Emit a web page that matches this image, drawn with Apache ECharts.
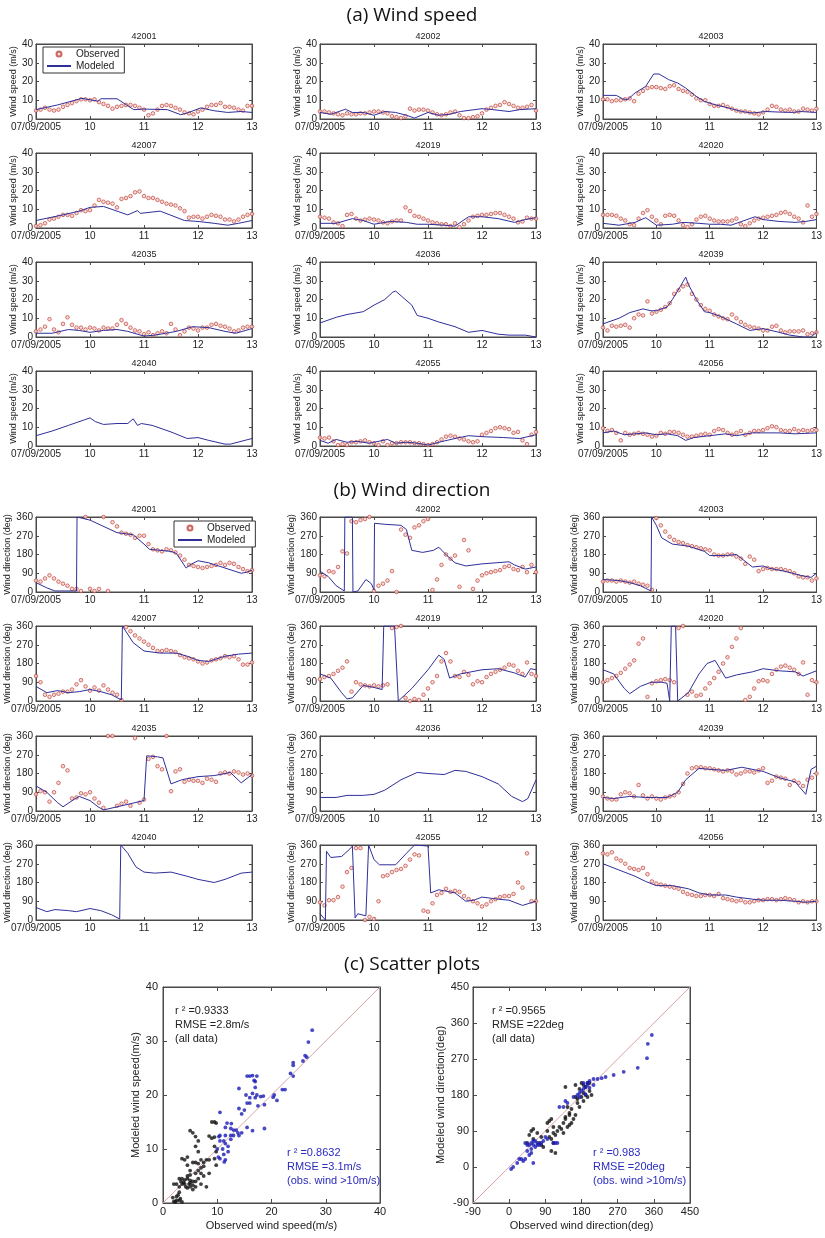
<!DOCTYPE html>
<html>
<head>
<meta charset="utf-8">
<script src="https://cdn.jsdelivr.net/npm/echarts/dist/echarts.min.js"></script>
<style>
html,body{margin:0;padding:0;background:#fff;}
#main{width:825px;height:1238px;}
</style>
</head>
<body>
<div id="main"></div>
<script>
// ---------- data ----------
var stations = ['42001','42002','42003','42007','42019','42020','42035','42036','42039','42040','42055','42056'];
var dayTicks = [9, 10, 11, 12, 13];
var dayLabels = ['07/09/2005', '10', '11', '12', '13'];
var spdTicks = [0, 10, 20, 30, 40];
var dirTicks = [0, 90, 180, 270, 360];
var scSpdTicks = [0, 10, 20, 30, 40];
var scDirTicks = [-90, 0, 90, 180, 270, 360, 450];

// observed: one value every 2 h from 07/09 00h to 07/13 00h ; modeled: [day, value]
var obsSpd42001 = [4.5,5,6,5,4.5,5,6.5,7.5,8.5,9.5,10.5,10.5,10,10.5,9,8,7,5.5,6.5,7,7.5,7.5,7,6,5,2,3,5,7,7.5,7,6,5,3.5,3,2.5,4,5,6.5,7.5,7.5,8.5,6.5,6.5,6,5,4.5,7,7];
var modSpd42001 = [[9,5],[9.4,7.5],[9.85,11],[10.15,9.5],[10.2,10.8],[10.5,10.8],[10.81,5],[11,5.3],[11.43,5],[11.68,2.3],[11.8,3.2],[12.05,5.9],[12.3,4.4],[12.55,3.5],[12.8,4],[13,3.5]];
var obsSpd42002 = [4,4,3.5,3,2.5,2,3,2.5,2.5,3,3,3.5,4,4,3.5,3,1.5,1,0.5,1.5,5.5,4.5,5,5,4.5,3.5,2.5,2,2.5,3.5,4,2,0.5,0.5,1,1.5,3,5,6,7,7.5,9,8,7,6,6,6.5,7.5,4.5];
var modSpd42002 = [[9,3.5],[9.2,2.5],[9.47,5.2],[9.6,3.5],[9.8,3.5],[10,2],[10.2,4],[10.4,3.5],[10.6,2],[10.75,0.5],[11,3.5],[11.2,2],[11.4,2.5],[11.6,4],[12,5.5],[12.2,5],[12.5,4],[12.7,5],[13,5.5]];
var obsSpd42003 = [10.5,10.5,9.5,10,10,10.5,11,9.5,13.5,15,16.5,17,17,16.5,16,17.5,18,16,15,14.5,13,11,10,10,8,7,7,7.5,6.5,5.5,4.5,4,4,3.5,3,2.5,3.5,5,7,6.5,5,4.5,5,4,4,5.5,5,4.5,5.5];
var modSpd42003 = [[9,12.6],[9.25,12.6],[9.37,10.7],[9.46,10.3],[9.6,13.9],[9.8,17.4],[9.95,24],[10.05,24],[10.23,21],[10.4,19.2],[10.55,16.5],[10.75,12],[10.9,9.4],[11.1,7.6],[11.35,5.9],[11.6,4],[11.8,3.2],[12.05,4],[12.3,3.7],[12.55,3.5],[12.7,4],[13,3.5]];
var obsSpd42007 = [1,1.5,2.5,4.5,5,6,7,7,6.5,8,9.5,9,9.5,12,15,14,13.5,13,11,15.5,16,17,19,19.5,17,16,16,15,14,13,12.5,12,10.5,9,5.5,6,6,5,6,7,6.5,6,4.5,4.5,3.5,4.5,6,7,7.5];
var modSpd42007 = [[9,4],[9.5,7],[9.8,9],[10,11],[10.25,11.5],[10.5,9],[10.7,7],[10.88,9.3],[10.93,7.8],[11.3,9],[11.75,4],[12,3.5],[12.3,2.5],[12.55,1.5],[12.75,2.5],[13,4]];
var obsSpd42019 = [6,5.5,5,3,2.5,1,7,7.5,5,4,4.5,5,4.5,4,3,2.5,3.5,4,4,11,9,6.5,6,5,4,3,2.5,2,2,1,2.5,0.5,2,4,6,6.5,7,7,7.5,8,8,7,6,5,3,3.5,5.5,5,5];
var modSpd42019 = [[9,2.5],[9.3,2.5],[9.6,5],[9.8,4],[10,2],[10.3,3.5],[10.6,3],[10.8,2],[11,2],[11.3,1.5],[11.5,1],[11.75,6],[12,6],[12.3,5],[12.6,3],[12.8,4.5],[13,5.5]];
var obsSpd42020 = [7,7,7,6.5,5,4,2,1.5,5,8,9.5,6,4,2,6.5,7,6.5,4,1.5,0.5,2,4.5,6,6.5,5,4,3.5,3.5,3.5,4,5,2,1,2.5,4,5,5.5,6,6.5,7,8,8.5,7.5,6,5,3,12,6,7.5];
var modSpd42020 = [[9,2.5],[9.3,1.5],[9.6,3],[9.8,5.5],[10,1.5],[10.3,2],[10.5,3],[10.8,2.5],[11,2],[11.2,2],[11.4,1.5],[11.6,3.5],[11.85,6],[12,4.5],[12.3,3.5],[12.6,3],[12.8,3.5],[13,4.5]];
var obsSpd42035 = [3,4,5.5,9.5,4,2.5,7,10.5,6.5,5,5,4,5,4.5,3.5,5,4.5,4.5,6.5,9,7,5,3.5,3,1.5,2.5,1,2,3,2,7,4,1,3,5,4.5,3.5,5,5,6.5,7,6,5.5,4.5,3,3.5,5,5.5,5.5];
var modSpd42035 = [[9,2],[9.3,2],[9.6,4],[9.8,3.5],[10,2.5],[10.25,3.5],[10.5,4],[10.7,3],[11,0.5],[11.2,1],[11.4,2],[11.6,3],[11.9,5.5],[12.2,5],[12.5,3],[12.7,2],[13,4.5]];
var obsSpd42036 = [];
var modSpd42036 = [[9,7.5],[9.3,10.5],[9.5,12],[9.8,13.5],[10,17],[10.2,20],[10.35,24],[10.4,24.5],[10.5,22],[10.7,17],[10.8,11.5],[11,10],[11.2,8],[11.5,5.5],[11.75,2.5],[12,3.5],[12.3,1.5],[12.5,1],[12.8,1],[13,0]];
var obsSpd42039 = [5,3.5,6,5.5,6,6.5,5,10,12,11.5,19,12.5,13.5,14.5,16,18,23,25,27,28,23,20,17,15,14,12,11,10,9.5,12,10,8,6.5,5.5,5,4.5,3.5,3.5,5.5,6,3.5,2.5,3,3,3,3.5,1.5,2,2.5];
var modSpd42039 = [[9,7],[9.3,10],[9.5,13],[9.75,15],[9.9,14],[10,14],[10.2,16],[10.3,20],[10.45,27],[10.55,32],[10.6,28],[10.75,20],[10.9,13.5],[11,13],[11.2,11],[11.5,7],[11.75,3.5],[12,4.5],[12.3,2.5],[12.5,1],[12.75,0],[12.9,0],[13,2.5]];
var obsSpd42040 = [];
var modSpd42040 = [[9,5.5],[9.3,8],[9.6,11],[9.9,14],[10,15],[10.1,13],[10.25,11.5],[10.5,12],[10.7,12],[10.8,14.5],[10.88,11],[10.95,12],[11.15,11],[11.5,7.5],[11.8,4],[12,4.5],[12.2,3],[12.5,1],[12.6,1],[13,4]];
var obsSpd42055 = [4.5,4,4.5,2.5,0.5,1,0.5,2,2,2.5,3,2,1.5,0.5,2.5,0.5,1.5,1.5,2,2,2,1.5,1.5,1,0.5,1,2,3.5,5,5.5,5,4,3.5,2.5,2,2.5,6,7,8,9.5,10,9.5,9,7,7.5,3,1,6,7.5];
var modSpd42055 = [[9,3],[9.15,1.5],[9.3,3.5],[9.5,2],[9.7,2.5],[9.9,1.5],[10,2],[10.25,3.5],[10.4,1.5],[10.6,2],[10.8,1.5],[11,0.5],[11.2,2],[11.5,4],[11.75,5.5],[12,5],[12.4,4.5],[12.7,4],[13,6]];
var obsSpd42056 = [9.5,8,8.5,7,3,7,6,6.5,7,6.5,6,5,5.5,7,6.5,7.5,7.5,7,6,5,5,5.5,6,6.5,6,8,9,8.5,7,6,7,8,6,7,8,8,8.5,9.5,10.5,10,8.5,8,8,9,8,8.5,8,8.5,8.5];
var modSpd42056 = [[9,7],[9.2,8],[9.4,6],[9.6,6.5],[9.8,7],[10,6],[10.2,6.5],[10.4,5.5],[10.55,3],[10.7,4.5],[11,5.5],[11.3,6.5],[11.5,5.5],[11.8,7],[12,7],[12.3,7],[12.6,6.5],[13,7]];

var obsDir42001 = [55,50,65,80,65,50,40,30,15,15,5,360,15,5,15,360,5,335,315,285,280,275,260,270,270,230,205,200,195,205,200,190,175,155,130,125,120,115,120,125,130,140,130,140,135,120,110,100,105];
var modDir42001 = [[9,45],[9.2,20],[9.35,5],[9.75,5],[9.76,360],[10,345],[10.5,285],[10.8,275],[11,230],[11.1,205],[11.3,200],[11.5,195],[11.6,185],[11.78,115],[11.85,130],[12,150],[12.2,140],[12.5,115],[12.8,90],[12.9,95],[13,105]];
var obsDir42002 = [80,75,100,95,120,195,185,340,335,345,350,360,5,30,40,55,100,0,300,275,260,310,320,340,350,10,60,130,180,160,175,25,250,200,15,55,80,90,95,100,105,120,125,110,105,120,95,130,95];
var modDir42002 = [[9,100],[9.15,75],[9.3,30],[9.45,5],[9.46,360],[9.6,360],[9.61,0],[9.7,5],[9.85,60],[9.95,40],[10,10],[10.01,330],[10.2,325],[10.5,320],[10.6,300],[10.7,200],[10.9,190],[11.1,200],[11.2,215],[11.35,175],[11.5,140],[11.7,125],[12,135],[12.5,145],[12.6,130],[12.8,110],[13,120]];
var obsDir42003 = [50,55,55,50,55,50,45,50,40,35,30,10,355,320,290,265,250,240,235,225,220,215,210,205,200,180,175,175,180,180,170,160,135,170,155,100,110,115,110,110,110,105,100,90,75,70,70,55,65];
var modDir42003 = [[9,60],[9.3,55],[9.5,45],[9.7,30],[9.9,5],[9.91,360],[10,320],[10.1,260],[10.3,230],[10.6,220],[10.9,195],[11,175],[11.3,175],[11.5,180],[11.6,160],[11.8,120],[12,125],[12.1,115],[12.4,100],[12.7,80],[12.9,70],[13,90]];
var obsDir42007 = [120,90,30,20,30,35,45,45,55,80,100,70,50,65,50,75,55,40,30,5,355,335,315,300,285,270,255,240,240,245,240,235,220,210,205,200,190,180,185,195,200,205,215,210,215,200,175,175,185];
var modDir42007 = [[9,70],[9.2,40],[9.4,50],[9.6,40],[9.8,45],[10,55],[10.2,45],[10.4,30],[10.58,5],[10.6,360],[10.8,280],[11,240],[11.3,230],[11.6,230],[11.8,215],[12,195],[12.2,190],[12.5,215],[12.75,225],[13,230]];
var obsDir42019 = [105,115,120,130,145,160,190,45,90,80,75,70,75,70,75,80,350,355,360,15,0,10,5,30,60,90,120,190,230,190,120,115,140,125,80,95,90,115,130,140,150,160,175,170,145,130,185,130,120];
var modDir42019 = [[9,130],[9.2,110],[9.4,40],[9.5,10],[9.6,15],[9.8,75],[10,65],[10.15,55],[10.18,360],[10.38,360],[10.45,0],[10.7,60],[11,150],[11.2,220],[11.3,200],[11.4,110],[11.6,130],[12,150],[12.3,155],[12.6,135],[12.8,115],[12.9,155],[13,150]];
var obsDir42020 = [90,100,110,120,135,155,175,195,275,300,20,85,95,100,105,100,90,350,360,30,45,25,30,60,85,110,140,180,210,260,300,350,5,20,60,95,100,95,130,150,165,170,160,150,130,185,30,100,90];
var modDir42020 = [[9,150],[9.2,130],[9.4,60],[9.5,35],[9.7,70],[9.9,90],[10.1,90],[10.2,85],[10.25,0],[10.28,360],[10.36,360],[10.4,0],[10.6,40],[10.8,130],[10.95,180],[11.1,195],[11.3,110],[11.5,125],[11.8,140],[12,155],[12.3,145],[12.6,140],[12.75,120],[12.9,135],[13,145]];
var obsDir42035 = [80,95,90,45,90,135,215,195,60,65,85,80,90,60,40,15,360,360,25,35,45,25,350,40,55,250,260,215,200,360,95,190,200,140,150,145,145,135,155,150,140,180,185,180,190,185,175,180,170];
var modDir42035 = [[9,120],[9.2,90],[9.4,40],[9.5,20],[9.7,55],[9.8,70],[10,50],[10.15,20],[10.25,5],[10.5,20],[10.75,35],[11,50],[11.05,265],[11.25,260],[11.35,255],[11.5,130],[11.7,150],[12,165],[12.3,170],[12.6,185],[12.8,135],[13,175]];
var obsDir42036 = [];
var modDir42036 = [[9,65],[9.3,65],[9.5,75],[9.8,75],[10,80],[10.2,100],[10.5,150],[10.8,185],[11,180],[11.3,175],[11.5,195],[11.7,190],[12,165],[12.3,130],[12.55,70],[12.75,45],[12.85,60],[13,150]];
var obsDir42039 = [70,60,55,55,80,90,85,70,125,75,60,70,60,55,65,70,75,90,130,180,205,210,210,205,205,200,195,190,195,190,175,180,190,190,185,195,205,135,145,165,160,155,125,145,135,120,150,160,180];
var modDir42039 = [[9,65],[9.2,60],[9.5,70],[9.8,65],[10,65],[10.2,65],[10.4,90],[10.55,150],[10.8,205],[11,200],[11.3,195],[11.6,210],[12,190],[12.3,160],[12.6,140],[12.8,80],[12.9,200],[13,215]];
var obsDir42040 = [];
var modDir42040 = [[9,60],[9.2,40],[9.35,50],[9.6,45],[9.75,40],[10,55],[10.2,45],[10.4,25],[10.55,5],[10.57,360],[10.7,320],[10.85,255],[11,230],[11.2,225],[11.5,230],[11.8,210],[12,195],[12.3,180],[12.5,195],[12.8,225],[13,230]];
var obsDir42055 = [85,70,95,95,110,160,230,250,345,345,0,15,5,90,210,215,230,240,245,260,290,315,310,45,40,80,120,130,150,135,140,135,115,100,90,80,65,75,90,100,110,115,115,125,180,155,320,90,90];
var modDir42055 = [[9,30],[9.1,0],[9.12,330],[9.2,300],[9.4,305],[9.55,340],[9.6,355],[9.65,10],[9.7,30],[9.85,20],[9.9,360],[10,290],[10.1,265],[10.4,265],[10.6,320],[10.75,360],[11,355],[11.05,130],[11.2,145],[11.5,130],[11.7,90],[11.85,95],[12,110],[12.3,100],[12.5,95],[12.75,70],[13,90]];
var obsDir42056 = [320,315,325,295,285,270,250,245,240,250,220,185,175,170,165,160,155,150,135,125,120,115,115,120,120,115,125,105,100,95,90,95,85,85,90,95,95,100,100,95,100,105,100,95,85,90,85,90,90];
var modDir42056 = [[9,270],[9.3,240],[9.6,210],[9.8,185],[10,165],[10.3,165],[10.6,150],[10.8,130],[11,120],[11.3,120],[11.5,110],[11.8,100],[12,95],[12.3,95],[12.6,90],[12.8,85],[13,90]];

// scatter: [observed, modeled]
var spdBlack = [[9.5,15],[9,15],[9.8,14.8],[9,12],[9.5,12.2],[8.5,12.4],[9.5,10.5],[9.8,9.5],[9.5,8.2],[9.8,7],[8.5,8],[8,8],[7.5,7.5],[7,8],[6.5,7.3],[6,7.5],[6.5,6],[7,5.5],[5,13.4],[5.5,13],[6,12.3],[6.5,11.5],[6,10.5],[6.5,9.5],[4,8],[3.5,8.2],[4.5,8.5],[4.5,7],[5.5,7.5],[5,6],[5,5.2],[4.5,5],[4.5,4.5],[4,4.3],[3.5,4.5],[3,4.5],[3.5,3.5],[4,3.5],[5,3.7],[5.5,4],[6,4],[4.2,3],[4.5,2.8],[5,3],[5.5,3.3],[6,3],[5.5,2.5],[3,3],[2.5,3.5],[2,3.5],[2.5,1.2],[2.5,0.5],[2,0.3],[3,0.5],[3.2,0.8],[2.8,1.5],[1.8,1],[3,2],[7.5,5],[8,3],[7,3.5],[6.5,4.5],[5,4.2],[4.8,3.5],[3.8,3.8],[3.3,4],[2.3,0.2],[3.5,0.2],[6,5.5],[7,6.5],[7.5,6.8],[8.5,5.5]];
var spdBlue = [[27.5,32],[26.8,29.8],[26.5,27],[26.2,27.3],[25.8,26.3],[24,25.5],[24,26],[23.5,24],[24,23.5],[22.5,21],[22,21],[20.5,20],[20.3,19.6],[21,19],[18.5,19.8],[18,19.7],[18.7,18.2],[17.3,23.5],[16.8,22.7],[17,22.5],[16.5,23.6],[15.5,23.5],[16,23.5],[17,21.4],[16.5,20.3],[17,19.5],[16,19.5],[17.5,18],[17.3,20],[16,18.5],[15.5,18.5],[15.3,20],[14,21.2],[15,17.2],[14,17.5],[14.5,16.5],[13.8,13],[14,12.5],[13,13.5],[12.6,14.7],[12.5,13.8],[13,12.5],[12.5,12.5],[11.8,14.8],[11.5,14],[11.5,12.5],[11.2,11.5],[11.5,11],[12,10.5],[12,9.5],[11.2,9],[11.5,8],[11.3,7.6],[10.5,11.5],[10.3,12.3],[10.5,12.5],[10.5,16.8],[10,10],[10.2,8.5],[10.5,8.2],[16.5,13.4],[18.7,13.8],[15.5,14],[14.5,13],[12.5,11.8],[13.5,13.5],[11,10]];
var dirBlack = [[185,205],[180,210],[175,195],[165,205],[195,210],[190,200],[200,190],[190,180],[180,175],[185,165],[170,160],[175,150],[165,130],[160,120],[155,110],[150,135],[140,120],[135,110],[140,200],[145,150],[150,130],[155,145],[130,95],[125,100],[135,85],[120,90],[115,80],[105,120],[100,115],[95,110],[110,100],[105,70],[110,60],[105,40],[115,35],[100,75],[95,90],[80,75],[75,60],[70,85],[60,95],[55,90],[50,80],[45,60],[60,70],[80,55],[85,50],[110,85],[200,210],[205,180],[195,175],[185,185],[170,170],[165,175],[145,100],[150,105],[140,125]];
var dirBlue = [[355,330],[345,308],[343,272],[320,248],[285,238],[260,230],[240,225],[230,222],[220,220],[210,220],[200,215],[195,210],[190,200],[185,195],[180,190],[175,185],[170,180],[195,205],[200,198],[210,205],[185,210],[190,182],[175,175],[160,175],[140,165],[145,160],[135,150],[125,150],[120,60],[115,60],[110,60],[95,70],[85,65],[80,60],[75,55],[70,60],[60,65],[55,60],[50,55],[45,55],[45,40],[40,60],[55,45],[55,35],[50,30],[40,20],[35,15],[30,20],[25,20],[20,10],[10,0],[5,-5],[60,10],[60,55],[65,50],[90,75],[70,55],[65,65]];
var spdOneToOne = [[0,0],[40,40]];
var dirOneToOne = [[-90,-90],[450,450]];

var spdObs = [obsSpd42001,obsSpd42002,obsSpd42003,obsSpd42007,obsSpd42019,obsSpd42020,obsSpd42035,obsSpd42036,obsSpd42039,obsSpd42040,obsSpd42055,obsSpd42056];
var spdMod = [modSpd42001,modSpd42002,modSpd42003,modSpd42007,modSpd42019,modSpd42020,modSpd42035,modSpd42036,modSpd42039,modSpd42040,modSpd42055,modSpd42056];
var dirObs = [obsDir42001,obsDir42002,obsDir42003,obsDir42007,obsDir42019,obsDir42020,obsDir42035,obsDir42036,obsDir42039,obsDir42040,obsDir42055,obsDir42056];
var dirMod = [modDir42001,modDir42002,modDir42003,modDir42007,modDir42019,modDir42020,modDir42035,modDir42036,modDir42039,modDir42040,modDir42055,modDir42056];

// ---------- layout ----------
var FONT = 'Liberation Sans';
var AX = '#4a4a4a';
var OBS_EDGE = '#c0443e', OBS_FILL = '#f6d3cd', MOD = '#2f2f9a';
var colLeft = [36, 320, 603];
var spdTop = [44, 153, 262, 371];
var dirTop = [517, 626, 736, 845];
var PW = 216, PH = 75;

var grid = [], xAxis = [], yAxis = [], series = [], graphic = [];

function addGrid(left, top, w, h, xt, yt, o) {
  var gi = grid.length;
  grid.push({left: left, top: top, width: w, height: h, show: true, borderColor: AX, borderWidth: 1, backgroundColor: '#fff'});
  var base = {type: 'value', gridIndex: gi, splitLine: {show: false},
    axisLine: {show: true, onZero: false, lineStyle: {color: AX, width: 1}},
    axisTick: {show: true, inside: true, length: o.tick, lineStyle: {color: AX}}};
  var xi = xAxis.length, yi = yAxis.length;
  xAxis.push(Object.assign({}, base, {position: 'bottom', min: xt[0], max: xt[xt.length - 1], interval: xt[1] - xt[0],
    axisLabel: {fontSize: o.fs, color: '#222', fontFamily: FONT, margin: o.xm, formatter: o.xfmt},
    name: o.xname || '', nameLocation: 'middle', nameGap: o.xng || 0,
    nameTextStyle: {fontSize: o.nfs, color: '#222', fontFamily: FONT}}));
  xAxis.push(Object.assign({}, base, {position: 'top', min: xt[0], max: xt[xt.length - 1], interval: xt[1] - xt[0],
    axisLabel: {show: false}}));
  yAxis.push(Object.assign({}, base, {position: 'left', min: yt[0], max: yt[yt.length - 1], interval: yt[1] - yt[0],
    axisLabel: {fontSize: o.fs, color: '#222', fontFamily: FONT, margin: o.ym},
    name: o.yname, nameLocation: 'middle', nameGap: o.yng, nameRotate: 90,
    nameTextStyle: {fontSize: o.nfs, color: '#222', fontFamily: FONT}}));
  yAxis.push(Object.assign({}, base, {position: 'right', min: yt[0], max: yt[yt.length - 1], interval: yt[1] - yt[0],
    axisLabel: {show: false}}));
  return {x: xi, y: yi};
}

function dayFmt(v) {
  var k = dayTicks.indexOf(v);
  return k >= 0 ? dayLabels[k] : '';
}

function addPanel(left, top, st, obs, mod, yt, yname, yng) {
  var ax = addGrid(left, top, PW, PH, dayTicks, yt,
    {tick: 3, fs: 10, nfs: 9, xm: 3, ym: 3, xfmt: dayFmt, yname: yname, yng: yng});
  var n = obs.length;
  var pts = obs.map(function (v, i) { return [9 + 4 * i / (n - 1), v]; });
  series.push({name: 'Modeled', type: 'line', xAxisIndex: ax.x, yAxisIndex: ax.y, data: mod,
    symbol: 'none', lineStyle: {color: MOD, width: 1}, itemStyle: {color: MOD}, z: 3, silent: true});
  series.push({name: 'Observed', type: 'scatter', xAxisIndex: ax.x, yAxisIndex: ax.y, data: pts,
    symbol: 'circle', symbolSize: 3.6,
    itemStyle: {color: OBS_FILL, borderColor: OBS_EDGE, borderWidth: 0.9}, z: 2, silent: true});
  graphic.push({type: 'text', x: left + PW / 2, y: top - 7, silent: true,
    style: {text: st, fill: '#222', font: '9px ' + FONT, textAlign: 'center', textVerticalAlign: 'middle'}});
}

for (var i = 0; i < stations.length; i++) {
  var r = Math.floor(i / 3), c = i % 3;
  addPanel(colLeft[c], spdTop[r], stations[i], spdObs[i], spdMod[i], spdTicks, 'Wind speed (m/s)', 15);
  addPanel(colLeft[c], dirTop[r], stations[i], dirObs[i], dirMod[i], dirTicks, 'Wind direction (deg)', 21);
}

// scatter plots
var sc1 = addGrid(163, 987, 217, 216, scSpdTicks, scSpdTicks,
  {tick: 4, fs: 11, nfs: 11, xm: 3, ym: 5, xfmt: null, xname: 'Observed wind speed(m/s)', xng: 17,
   yname: 'Modeled wind speed(m/s)', yng: 22});
var sc2 = addGrid(473, 987, 217, 216, scDirTicks, scDirTicks,
  {tick: 4, fs: 11, nfs: 11, xm: 3, ym: 4, xfmt: null, xname: 'Observed wind direction(deg)', xng: 17,
   yname: 'Modeled wind direction(deg)', yng: 26});

[[sc1, spdOneToOne, spdBlack, spdBlue], [sc2, dirOneToOne, dirBlack, dirBlue]].forEach(function (s) {
  series.push({type: 'line', xAxisIndex: s[0].x, yAxisIndex: s[0].y, data: s[1], symbol: 'none',
    lineStyle: {color: '#d6a3a3', width: 1}, silent: true, z: 1});
  series.push({type: 'scatter', xAxisIndex: s[0].x, yAxisIndex: s[0].y, data: s[2], symbolSize: 3.8,
    itemStyle: {color: '#111'}, silent: true, z: 2});
  series.push({type: 'scatter', xAxisIndex: s[0].x, yAxisIndex: s[0].y, data: s[3], symbolSize: 3.8,
    itemStyle: {color: '#1c1cb8'}, silent: true, z: 3});
});

// section titles & annotations
function txt(t, x, y, size, color, align, family) {
  graphic.push({type: 'text', x: x, y: y, silent: true,
    style: {text: t, fill: color, font: size + 'px ' + (family || FONT), textAlign: align || 'left', textVerticalAlign: 'middle'}});
}
txt('(a) Wind speed', 412, 16, 19, '#111', 'center', 'Open Sans');
txt('(b) Wind direction', 412, 491, 19, '#111', 'center', 'Open Sans');
txt('(c) Scatter plots', 412, 965, 19, '#111', 'center', 'Open Sans');

var annoBlack = ['r \u00b2 =0.9333', 'RMSE =2.8m/s', '(all data)'];
var annoBlue = ['r \u00b2 =0.8632', 'RMSE =3.1m/s', '(obs. wind >10m/s)'];
var annoBlack2 = ['r \u00b2 =0.9565', 'RMSE =22deg', '(all data)'];
var annoBlue2 = ['r \u00b2 =0.983', 'RMSE =20deg', '(obs. wind >10m/s)'];
[[annoBlack, 175, 1011, '#222'], [annoBlue, 287, 1153, '#2a2ac0'],
 [annoBlack2, 492, 1011, '#222'], [annoBlue2, 593, 1153, '#2a2ac0']].forEach(function (a) {
  a[0].forEach(function (t, k) { txt(t, a[1], a[2] + k * 14, 11, a[3]); });
});

var legendBase = {orient: 'vertical',
  data: [{name: 'Observed'}, {name: 'Modeled', itemStyle: {opacity: 0}}],
  borderColor: '#333', borderWidth: 1,
  backgroundColor: '#fff', padding: [2, 5, 2, 3], itemGap: 2, itemWidth: 24, itemHeight: 5,
  textStyle: {fontSize: 10, fontFamily: FONT, color: '#222'}, selectedMode: false};

var chart = echarts.init(document.getElementById('main'), null, {renderer: 'canvas'});
chart.setOption({
  backgroundColor: '#fff',
  animation: false,
  grid: grid,
  xAxis: xAxis,
  yAxis: yAxis,
  legend: [Object.assign({}, legendBase, {left: 43, top: 47}), Object.assign({}, legendBase, {left: 174, top: 521})],
  series: series,
  graphic: graphic
});
</script>
</body>
</html>
